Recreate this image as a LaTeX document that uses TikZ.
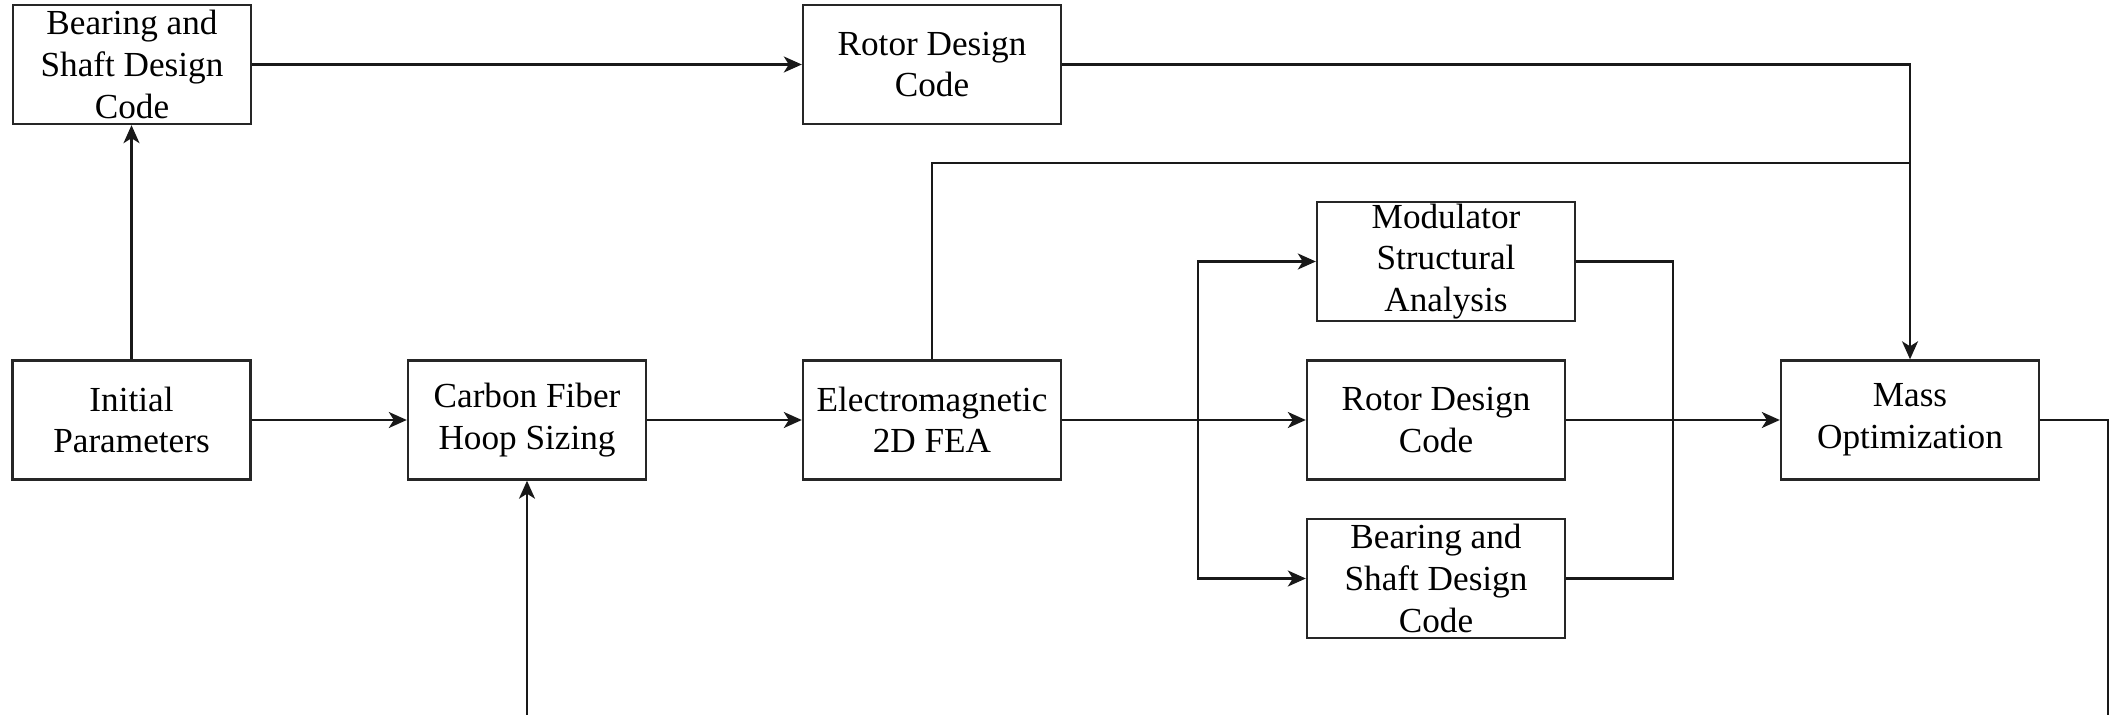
\documentclass[tikz,border=0pt]{standalone}
\usepackage{fontspec}
\setmainfont{Liberation Serif}
\usetikzlibrary{arrows.meta}
\begin{document}
\begin{tikzpicture}[x=0.5pt,y=-0.5pt,
  blk/.style={draw=black!85, line width=1.2pt, align=center, inner sep=0pt,
    font=\fontsize{17.6}{20.8}\selectfont, minimum height=59.5pt},
  wa/.style={blk, minimum width=119pt},
  wb/.style={blk, minimum width=129pt},
  conn/.style={line width=1.1pt, draw=black!90},
  arr/.style={conn, -{Stealth[length=9pt,width=8pt,inset=2.5pt]}}]
\useasboundingbox (0,0) rectangle (2118,715);
% nodes
\node[wa] (bsTop) at (132,64.5) {Bearing and\\Shaft Design\\Code};
\node[wb] (rotorTop) at (932,64.5) {Rotor Design\\Code};
\node[wa] (init) at (131.5,420) {Initial\\Parameters};
\node[wa] (carbon) at (527,420) {Carbon Fiber\\Hoop Sizing};
\node[wb] (em) at (932,420) {Electromagnetic\\2D FEA};
\node[wb] (mod) at (1446,261.5) {Modulator\\Structural\\Analysis};
\node[wb] (rotorMid) at (1436,420) {Rotor Design\\Code};
\node[wb] (bsBot) at (1436,578.5) {Bearing and\\Shaft Design\\Code};
\node[wb] (mass) at (1910,420) {Mass\\Optimization};
% helper coordinates
\coordinate (cbot) at (527,715);
\coordinate (mend) at (2108,715);
\coordinate (j1) at (1910,163);
\coordinate (br) at (1198,420);
\coordinate (rj) at (1673,420);
% connectors
\draw[arr] (init.north) -- (init.north |- bsTop.south);
\draw[arr] (bsTop.east) -- (rotorTop.west);
\draw[arr] (init.east) -- (carbon.west);
\draw[arr] (carbon.east) -- (em.west);
\draw[arr] (cbot) -- (carbon.south);
\draw[conn] (em.north) |- (j1);
\draw[arr] (rotorTop.east) -| (mass.north);
\draw[arr] (em.east) -- (rotorMid.west);
\draw[arr] (br) |- (mod.west);
\draw[arr] (br) |- (bsBot.west);
\draw[conn] (mod.east) -- (mod.east -| rj) -- (rj |- bsBot.east) -- (bsBot.east);
\draw[arr] (rotorMid.east) -- (mass.west);
\draw[conn] (mass.east) -| (mend);
\end{tikzpicture}
\end{document}
